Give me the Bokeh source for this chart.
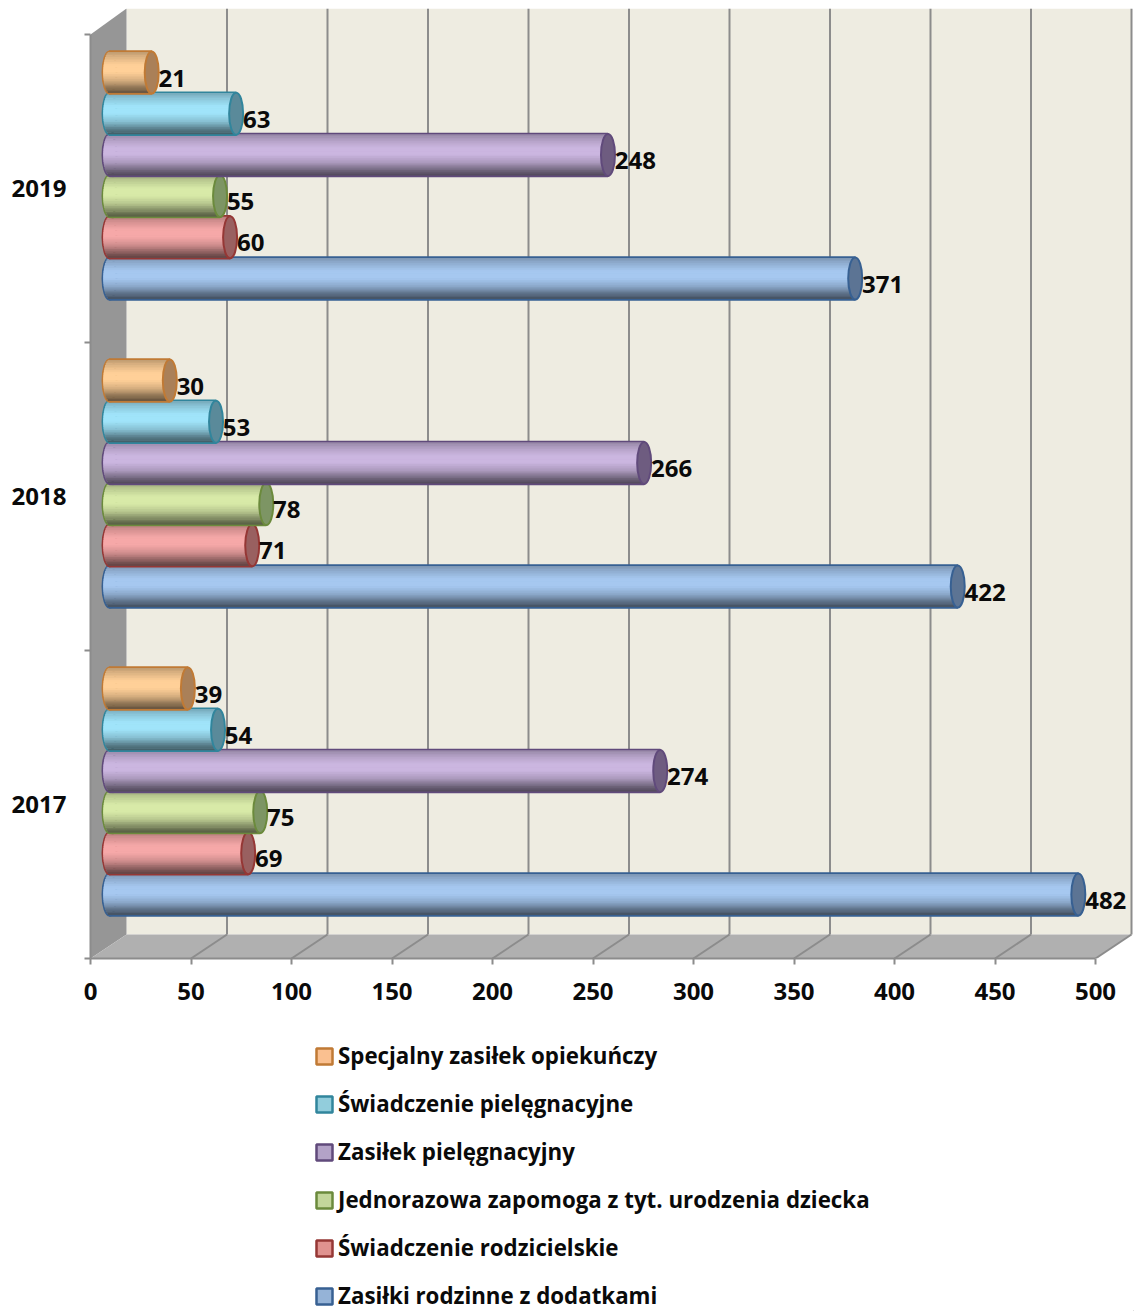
from bokeh.embed import file_html
from bokeh.resources import INLINE
from bokeh.plotting import figure
from bokeh.layouts import column
from bokeh.models import ColumnDataSource, FixedTicker, Legend, LegendItem, LinearAxis, Range1d
from bokeh.core.properties import value
import math

years = ["2017", "2018", "2019"]
zasilki_rodzinne = [482, 422, 371]
swiadczenie_rodzicielskie = [69, 71, 60]
jednorazowa_zapomoga = [75, 78, 55]
zasilek_pielegnacyjny = [274, 266, 248]
swiadczenie_pielegnacyjne = [54, 53, 63]
specjalny_zasilek = [39, 30, 21]
x_ticks = [0, 50, 100, 150, 200, 250, 300, 350, 400, 450, 500]

series = [
    ("Zasiłki rodzinne z dodatkami", zasilki_rodzinne, "#A6C8F0", "#5C7494", "#376092", "#95B3D7"),
    ("Świadczenie rodzicielskie", swiadczenie_rodzicielskie, "#F6A8A8", "#996060", "#953735", "#E0928F"),
    ("Jednorazowa zapomoga z tyt. urodzenia dziecka", jednorazowa_zapomoga, "#D8EAA8", "#7D9564", "#6B8A3C", "#C3D69B"),
    ("Zasiłek pielęgnacyjny", zasilek_pielegnacyjny, "#CBB6E0", "#6E5C80", "#604A7B", "#B3A2C7"),
    ("Świadczenie pielęgnacyjne", swiadczenie_pielegnacyjne, "#A0E4FA", "#5A8A9A", "#31859C", "#92CDDC"),
    ("Specjalny zasiłek opiekuńczy", specjalny_zasilek, "#FFD098", "#AA8058", "#C07A35", "#FAC090"),
]
legend_order = [5, 4, 3, 2, 1, 0]

FONT = "Open Sans"
TXT = "24px"
WIDTH, MAIN_H, LEG_H = 1134, 1008, 303
PX_X = 2.01        # pixels per value unit
PX_Y = 308.0       # pixels per category
LEFT = 90
TOP = 8
FRAME_H = 950
WALL_X = 36 / PX_X
WALL_Y = 24 / PX_Y
TOP_Y = FRAME_H / PX_Y
BAR_X = 19 / PX_X
BAR_Y0 = 64 / PX_Y
BAR_STEP = 41.2 / PX_Y
BAR_H = 42 / PX_Y
CAP_W = 14 / PX_X
N_STRIPS = 24

x_end = (WIDTH - LEFT) / PX_X

p = figure(width=WIDTH, height=MAIN_H, output_backend="svg", toolbar_location=None,
           x_range=Range1d(0, x_end), y_range=Range1d(0, TOP_Y),
           x_axis_location=None, y_axis_location=None,
           min_border_left=LEFT, min_border_right=0, min_border_top=TOP,
           min_border_bottom=MAIN_H - FRAME_H - TOP, outline_line_color=None,
           background_fill_color="white", border_fill_color="white")
p.grid.visible = False

# walls and floor
GRID = "#8C8C8C"
end = x_ticks[-1]
p.quad(left=[WALL_X], right=[end + WALL_X], bottom=[WALL_Y], top=[TOP_Y], fill_color="#EEECE1", line_color=None)
p.patch([0, WALL_X, WALL_X, 0], [0, WALL_Y, TOP_Y, 3], fill_color="#969696", line_color=None)
p.patch([0, WALL_X, end + WALL_X, end], [0, WALL_Y, WALL_Y, 0], fill_color="#B0B0B0", line_color=None)
p.segment([t + WALL_X for t in x_ticks[1:]], WALL_Y, [t + WALL_X for t in x_ticks[1:]], TOP_Y,
          line_color=GRID, line_width=2)
p.segment(x_ticks[1:], 0, [t + WALL_X for t in x_ticks[1:]], WALL_Y, line_color=GRID, line_width=2)


def shade(hex_color, f):
    r, g, b = (int(hex_color[i:i + 2], 16) for i in (1, 3, 5))
    return "#%02X%02X%02X" % tuple(min(255, int(c * f)) for c in (r, g, b))


def profile(t):
    pts = [(0, .74), (.12, .86), (.32, 1.0), (.5, 1.0), (.7, .84), (.88, .56), (1, .40)]
    for (a, fa), (b, fb) in zip(pts, pts[1:]):
        if t <= b:
            return fa + (fb - fa) * (t - a) / (b - a)
    return pts[-1][1]


labels = {"x": [], "y": [], "t": []}
for s, (name, vals, light, cap, edge, swatch) in enumerate(series):
    ys = [g + BAR_Y0 + s * BAR_STEP for g in range(len(vals))]
    rights = [v + BAR_X for v in vals]
    p.hbar(y=ys, left=BAR_X, right=rights, height=BAR_H, fill_color=swatch,
           line_color=edge, line_width=2.5)
    p.ellipse(x=[BAR_X] * len(ys), y=ys, width=CAP_W, height=BAR_H, fill_color=light,
              line_color=edge, line_width=2)
    strip = {"y": [], "l": [], "r": [], "c": []}
    for y, r in zip(ys, rights):
        for i in range(N_STRIPS):
            t = (i + .5) / N_STRIPS
            u = 2 * t - 1
            strip["y"].append(y + BAR_H / 2 * (-u) * .97)
            strip["l"].append(BAR_X - CAP_W / 2 * math.sqrt(max(0, 1 - u * u)) * .9)
            strip["r"].append(r)
            strip["c"].append(shade(light, profile(t)))
    p.hbar(y="y", left="l", right="r", height=BAR_H / N_STRIPS * 1.25, fill_color="c", line_color=None,
           source=ColumnDataSource(strip))
    p.ellipse(x=rights, y=ys, width=CAP_W, height=BAR_H, fill_color=cap, line_color=edge, line_width=2)
    for y, r, v in zip(ys, rights, vals):
        labels["x"].append(r + 3.4)
        labels["y"].append(y - 5.5 / PX_Y)
        labels["t"].append(str(v))

p.text(x="x", y="y", text="t", source=ColumnDataSource(labels), text_font=value(FONT), text_font_style="bold",
       text_font_size=TXT, text_color="#0A0A0A", text_baseline="middle", text_align="left")

# axes
xax = LinearAxis(ticker=FixedTicker(ticks=x_ticks), bounds=(0, end))
yax = LinearAxis(ticker=FixedTicker(ticks=[.5, 1.5, 2.5], minor_ticks=[0, 1, 2, 3]), bounds=(0, 3))
yax.major_label_overrides = {.5: years[0], 1.5: years[1], 2.5: years[2]}
for ax in (xax, yax):
    ax.axis_line_color = GRID
    ax.axis_line_width = 2
    ax.major_tick_line_color = GRID
    ax.major_tick_line_width = 2
    ax.major_label_text_font = FONT
    ax.major_label_text_font_style = "bold"
    ax.major_label_text_font_size = TXT
    ax.major_label_text_color = "#0A0A0A"
xax.major_tick_out = 6
xax.major_tick_in = 0
xax.minor_tick_line_color = None
xax.major_label_standoff = 18
yax.major_tick_out = 0
yax.major_tick_in = 0
yax.minor_tick_line_color = GRID
yax.minor_tick_line_width = 2
yax.minor_tick_out = 6
yax.minor_tick_in = 0
yax.major_label_standoff = 18
p.add_layout(xax, "below")
p.add_layout(yax, "left")

# legend panel
q = figure(width=WIDTH, height=LEG_H, output_backend="svg", toolbar_location=None,
           x_range=Range1d(0, 1), y_range=Range1d(0, 1), x_axis_location=None, y_axis_location=None,
           min_border=0, min_border_left=LEFT, min_border_right=0, outline_line_color=None)
q.grid.visible = False
items = []
for i in legend_order:
    name, _, _, _, edge, swatch = series[i]
    r = q.hbar(y=[-5], left=[5], right=[6], height=1, fill_color=swatch, line_color=edge, line_width=2.5)
    items.append(LegendItem(label=name, renderers=[r]))
legend = Legend(items=items, location=(224, 0), orientation="vertical", border_line_color=None,
                background_fill_alpha=0, label_text_font=FONT, label_text_font_style="bold",
                label_text_font_size="22.3px", label_text_color="#0A0A0A", glyph_width=20, glyph_height=20,
                label_standoff=4, label_height=20, spacing=17, padding=0, margin=0)
q.add_layout(legend, "center")

open("out.html", "w").write(file_html(column(p, q, spacing=0), INLINE))
